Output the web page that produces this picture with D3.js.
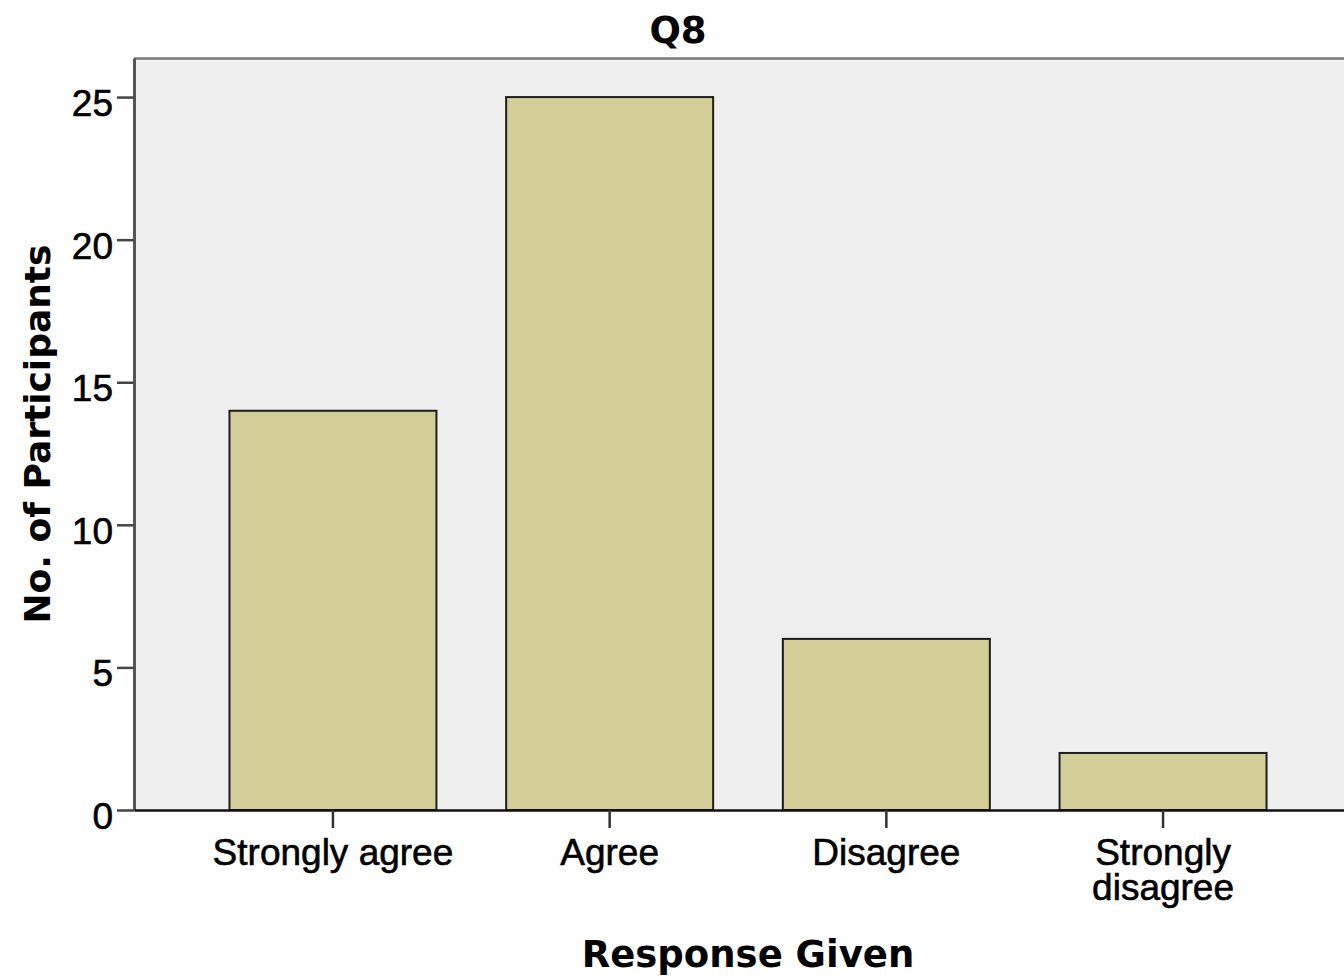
<!DOCTYPE html>
<html>
<head>
<meta charset="utf-8">
<script src="https://cdn.jsdelivr.net/npm/d3@7"></script>
<style>
  html, body { margin: 0; padding: 0; background: #ffffff; overflow: hidden; }
  svg { display: block; }
</style>
</head>
<body>
<svg id="chart" width="1344" height="978"></svg>
<script>
// ---- Data ----
const categories = ["Strongly agree", "Agree", "Disagree", "Strongly disagree"];
const counts = [14, 25, 6, 2];
const yTicks = [0, 5, 10, 15, 20, 25];
const chartTitle = "Q8";
const xTitle = "Response Given";
const yTitle = "No. of Participants";

// ---- Layout ----
const plot = { left: 134, right: 1362, top: 58, bottom: 810 };
const yMax = 26.37;

const svg = d3.select("#chart");

const x = d3.scaleBand()
  .domain(categories)
  .range([plot.left, plot.right])
  .paddingInner(0.252)
  .paddingOuter(0.345);

const y = d3.scaleLinear()
  .domain([0, yMax])
  .range([plot.bottom, plot.top]);

// plot background
svg.append("rect")
  .attr("x", plot.left).attr("y", plot.top)
  .attr("width", plot.right - plot.left)
  .attr("height", plot.bottom - plot.top)
  .attr("fill", "#efefef");

// top border
svg.append("line")
  .attr("x1", plot.left).attr("x2", plot.right)
  .attr("y1", plot.top + 0.5).attr("y2", plot.top + 0.5)
  .attr("stroke", "#7a7a7a").attr("stroke-width", 2.5);

// bars
svg.append("g").selectAll("rect")
  .data(categories.map((c, i) => ({ c, v: counts[i] })))
  .join("rect")
  .attr("x", d => x(d.c))
  .attr("y", d => y(d.v))
  .attr("width", x.bandwidth())
  .attr("height", d => y(0) - y(d.v))
  .attr("fill", "#d3ce97")
  .attr("stroke", "#1e1e1e")
  .attr("stroke-width", 2);

const tickFont = "'Liberation Sans', Arial, sans-serif";

// Y axis
const yAxis = svg.append("g")
  .attr("transform", `translate(${plot.left},0)`)
  .call(d3.axisLeft(y).tickValues(yTicks).tickSize(17).tickSizeOuter(0).tickPadding(4).tickFormat(d3.format("d")));
yAxis.select(".domain").attr("stroke", "#555").attr("stroke-width", 3);
yAxis.selectAll(".tick line").attr("stroke", "#444").attr("stroke-width", 2.5);
yAxis.selectAll(".tick text")
  .attr("font-family", tickFont)
  .attr("font-size", 37)
  .attr("fill", "#000")
  .attr("stroke", "#000").attr("stroke-width", 0.6)
  .attr("dy", "0.5em");

// X axis
const xAxis = svg.append("g")
  .attr("transform", `translate(0,${plot.bottom})`)
  .call(d3.axisBottom(x).tickSize(18).tickPadding(11).tickSizeOuter(0));
xAxis.select(".domain").attr("stroke", "#111").attr("stroke-width", 2.5);
xAxis.selectAll(".tick line").attr("stroke", "#333").attr("stroke-width", 2.5);
xAxis.selectAll(".tick text")
  .attr("font-family", tickFont)
  .attr("font-size", 37)
  .attr("fill", "#000")
  .attr("stroke", "#000").attr("stroke-width", 0.6)
  .each(function(d) {
    const t = d3.select(this);
    const maxW = x.step();
    if (this.getComputedTextLength() > maxW) {
      const words = d.split(" ");
      t.text(null);
      const tx = t.attr("x") || 0;
      const ty = t.attr("y");
      words.forEach((w, i) => {
        t.append("tspan")
          .attr("x", tx)
          .attr("y", ty)
          .attr("dy", (0.71 + i * 0.95) + "em")
          .text(w);
      });
      t.attr("dy", null);
    }
  });

// titles
svg.append("text")
  .attr("x", 678).attr("y", 43)
  .attr("text-anchor", "middle")
  .attr("font-family", "'DejaVu Sans', sans-serif")
  .attr("font-weight", "bold")
  .attr("font-size", 37)
  .text(chartTitle);

svg.append("text")
  .attr("x", (plot.left + plot.right) / 2).attr("y", 967)
  .attr("text-anchor", "middle")
  .attr("font-family", "'DejaVu Sans', sans-serif")
  .attr("font-weight", "bold")
  .attr("font-size", 37)
  .text(xTitle);

svg.append("text")
  .attr("transform", `translate(50,${(plot.top + plot.bottom) / 2}) rotate(-90)`)
  .attr("text-anchor", "middle")
  .attr("font-family", "'DejaVu Sans', sans-serif")
  .attr("font-weight", "bold")
  .attr("font-size", 36)
  .text(yTitle);
</script>
</body>
</html>
